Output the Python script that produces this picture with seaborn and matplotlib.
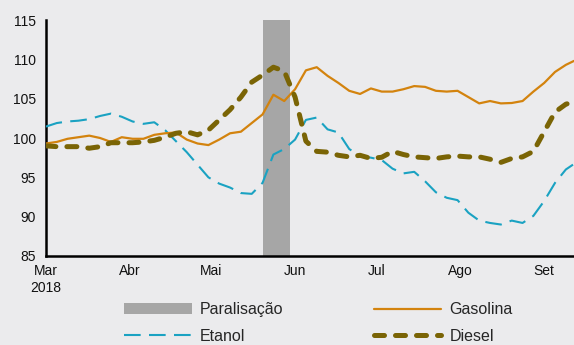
import matplotlib
matplotlib.use("Agg")
import matplotlib.pyplot as plt
from matplotlib.patches import Patch
from matplotlib.lines import Line2D
import pandas as pd
import seaborn as sns

# Índices de preços (base 100), observações a cada 4 dias
dates = pd.date_range("2018-03-01", periods=49, freq="4D").append(pd.DatetimeIndex(["2018-09-12"]))

gasolina = [99.3, 99.5, 99.9, 100.1, 100.3, 100.0, 99.5, 100.1, 99.9, 99.9,
            100.4, 100.6, 100.7, 99.8, 99.3, 99.1, 99.8, 100.6, 100.8, 101.9,
            103.0, 105.5, 104.7, 106.2, 108.6, 109.0, 107.9, 107.0, 106.0, 105.6,
            106.3, 105.9, 105.9, 106.2, 106.6, 106.5, 106.0, 105.9, 106.0, 105.2,
            104.4, 104.7, 104.4, 104.45, 104.7, 105.9, 107.0, 108.4, 109.3, 109.8]

etanol = [101.45, 101.9, 102.1, 102.2, 102.4, 102.8, 103.1, 102.7, 102.1, 101.8,
          102.0, 101.0, 99.6, 98.2, 96.6, 95.0, 94.2, 93.7, 93.0, 92.9,
          94.3, 97.9, 98.6, 99.8, 102.3, 102.6, 101.1, 100.7, 98.6, 97.7,
          97.5, 97.2, 96.1, 95.5, 95.7, 94.5, 93.1, 92.4, 92.1, 90.5,
          89.5, 89.2, 89.0, 89.5, 89.2, 90.1, 92.0, 94.3, 96.0, 96.7]

diesel = [99.0, 98.9, 98.9, 98.9, 98.7, 98.9, 99.4, 99.4, 99.4, 99.5,
          99.7, 100.1, 100.6, 100.8, 100.4, 101.0, 102.3, 103.6, 105.2, 107.1,
          108.0, 109.0, 108.5, 105.2, 99.6, 98.3, 98.2, 97.8, 97.6, 97.8,
          97.4, 97.55, 98.3, 97.9, 97.6, 97.5, 97.4, 97.6, 97.7, 97.6,
          97.6, 97.3, 96.9, 97.4, 97.6, 98.3, 100.8, 103.3, 104.3, 104.6]

# Período da paralisação dos caminhoneiros
paralisacao = ("2018-05-20", "2018-05-30")

month_ticks = pd.date_range("2018-03-01", "2018-09-01", freq="MS")
month_labels = ["Mar\n2018", "Abr", "Mai", "Jun", "Jul", "Ago", "Set"]

C_GAS = "#D3830E"
C_ETA = "#1AA2C2"
C_DIE = "#7A6405"
C_PAR = "#A6A6A6"
BG = "#EBEBED"

sns.set_style("white")
plt.rcParams["font.family"] = ["Liberation Sans", "DejaVu Sans"]
plt.rcParams["font.size"] = 10

df = pd.DataFrame({"data": dates, "Gasolina": gasolina, "Etanol": etanol, "Diesel": diesel})

fig = plt.figure(figsize=(5.74, 3.45), dpi=100, facecolor=BG)
ax = fig.add_axes([0.080, 0.258, 0.920, 0.684])
ax.set_facecolor(BG)

ax.axvspan(pd.Timestamp(paralisacao[0]), pd.Timestamp(paralisacao[1]),
           color=C_PAR, lw=0, zorder=1)

sns.lineplot(data=df, x="data", y="Etanol", ax=ax, color=C_ETA, lw=1.5, zorder=3)
ax.lines[-1].set_dashes((8, 4))
sns.lineplot(data=df, x="data", y="Gasolina", ax=ax, color=C_GAS, lw=1.6, zorder=4)
sns.lineplot(data=df, x="data", y="Diesel", ax=ax, color=C_DIE, lw=3.6, zorder=5)
ax.lines[-1].set_dashes((2, 2.2))
ax.lines[-1].set_dash_capstyle("round")

ax.set_xlim(pd.Timestamp("2018-03-01"), pd.Timestamp("2018-09-12"))
ax.set_ylim(85, 115)
ax.set_yticks([85, 90, 95, 100, 105, 110, 115])
ax.set_xticks(month_ticks)
ax.set_xticklabels(month_labels)
ax.set_xlabel("")
ax.set_ylabel("")

for s in ["top", "right"]:
    ax.spines[s].set_visible(False)
for s in ["left", "bottom"]:
    ax.spines[s].set_color("black")
    ax.spines[s].set_linewidth(1.8)
ax.tick_params(axis="both", which="major", direction="out", length=4, width=1.5,
               color="black", labelsize=10, labelcolor="#111111", pad=3)
ax.tick_params(axis="x", length=3)

handles = [
    Patch(facecolor=C_PAR, edgecolor="none", label="Paralisação"),
    Line2D([], [], color=C_ETA, lw=1.5, dashes=(8, 4), label="Etanol"),
    Line2D([], [], color=C_GAS, lw=1.6, label="Gasolina"),
    Line2D([], [], color=C_DIE, lw=3.6, dashes=(2, 2.2), dash_capstyle="round", label="Diesel"),
]
fig.legend(handles=handles, ncol=2, loc="lower left", bbox_to_anchor=(0.216, 0.003),
           frameon=False, borderpad=0, borderaxespad=0,
           handlelength=4.25, handleheight=0.65, handletextpad=0.5,
           columnspacing=5.65, labelspacing=0.75, fontsize=11.5)

fig.savefig("out.png", dpi=100, facecolor=BG)
